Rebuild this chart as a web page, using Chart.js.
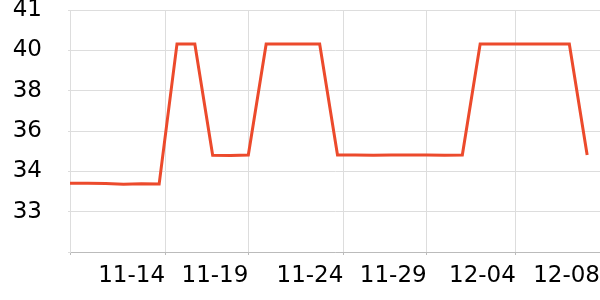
<!DOCTYPE html>
<html><head><meta charset="utf-8">
<script src="https://cdn.jsdelivr.net/npm/chart.js@4/dist/chart.umd.min.js"></script>
<style>html,body{margin:0;padding:0;background:#fff}</style>
</head><body>
<canvas id="c" width="600" height="300"></canvas>
<script>
const dates = ['11-09','11-10','11-11','11-12','11-13','11-14','11-15','11-16','11-17','11-18',
               '11-19','11-20','11-21','11-22','11-23','11-24','11-25','11-26','11-27','11-28',
               '11-29','11-30','12-01','12-02','12-03','12-04','12-05','12-06','12-07','12-08'];
const values = [33.90,33.90,33.89,33.86,33.88,33.87,39.77,39.77,35.08,35.07,
                35.09,39.77,39.77,39.77,39.77,35.09,35.09,35.08,35.09,35.09,
                35.09,35.08,35.09,39.77,39.77,39.77,39.77,39.77,39.77,35.09];
const xTickDays = [0, 5.33, 10, 15.33, 20, 25, 29.72];
const xTickLabels = ['', '11-14','11-19','11-24','11-29','12-04','12-08'];
const yTickLabels = ['', '33','34','36','38','40','41'];

const font = {family: 'DejaVu Sans', size: 23};
new Chart(document.getElementById('c'), {
  type: 'line',
  data: {
    labels: dates,
    datasets: [{
      data: values.map((v, i) => ({x: i, y: v})),
      borderColor: '#ec4a2c',
      borderWidth: 3,
      pointRadius: 0,
      tension: 0,
      fill: false
    }]
  },
  options: {
    responsive: false,
    devicePixelRatio: 1,
    animation: false,
    plugins: {legend: {display: false}, tooltip: {enabled: false}},
    layout: {padding: {top: 10, left: 0, right: 0, bottom: 0}},
    scales: {
      x: {
        type: 'linear',
        min: 0,
        max: xTickDays[xTickDays.length - 1],
        afterBuildTicks: s => { s.ticks = xTickDays.map(v => ({value: v})); },
        afterFit: s => { s.height = 48; s.paddingLeft = 0; s.paddingRight = 0; },
        grid: {color: '#dddddd', tickLength: 3, tickColor: '#bbbbbb'},
        border: {color: '#bbbbbb'},
        ticks: {
          autoSkip: false, maxRotation: 0, align: 'end', padding: 7,
          color: '#000', font: font,
          callback: (v, i) => xTickLabels[i]
        }
      },
      y: {
        min: 31, max: 41.2,
        ticks: {
          stepSize: 1.7, padding: 26, color: '#000', font: font,
          callback: (v, i) => yTickLabels[i]
        },
        afterFit: s => { s.width = 70; s.paddingTop = 0; s.paddingBottom = 0; },
        grid: {color: '#dddddd', tickLength: 2},
        border: {color: '#dddddd'}
      }
    }
  }
});
</script>
</body></html>
